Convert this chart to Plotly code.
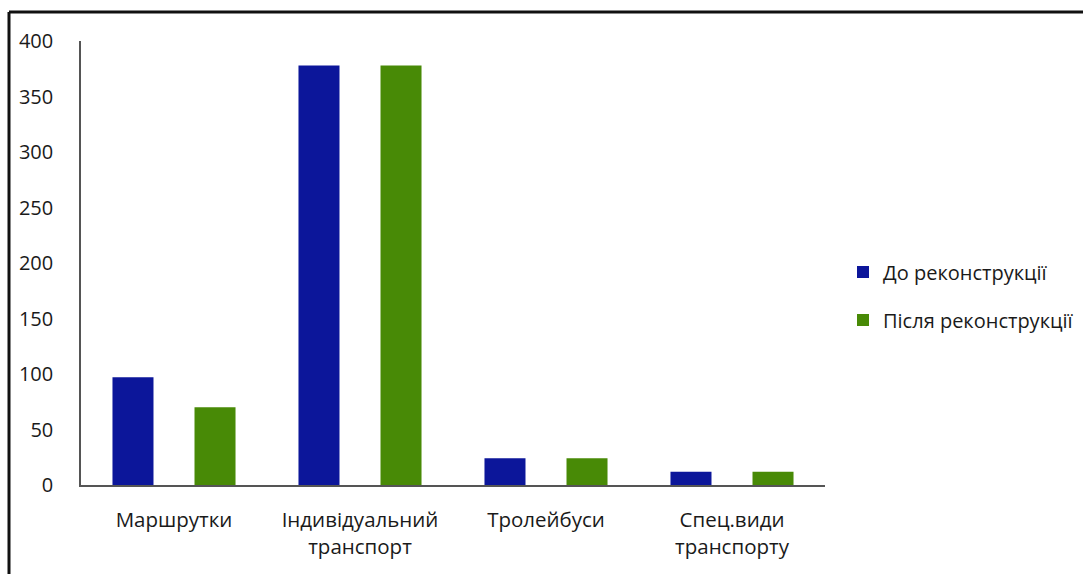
import plotly.graph_objects as go

categories = ["Маршрутки", "Індивідуальний<br>транспорт", "Тролейбуси", "Спец.види<br>транспорту"]
before = [97, 378, 24, 12]
after = [70, 378, 24, 12]
series_names = ["До реконструкції", "Після реконструкції"]
y_ticks = [0, 50, 100, 150, 200, 250, 300, 350, 400]

BLUE = "#0c169a"
GREEN = "#488a06"
FONT = "Open Sans"

fig = go.Figure()
fig.add_trace(go.Bar(x=categories, y=before, name=series_names[0],
                     marker=dict(color=BLUE, line=dict(width=0)),
                     legendgroup="a"))
fig.add_trace(go.Bar(x=categories, y=after, name=series_names[1],
                     marker=dict(color=GREEN, line=dict(width=0)),
                     legendgroup="b"))

W, H = 1083, 574
L, R, T, B = 81, 825, 41, 485

def px_x(px):
    return (px - L) / (R - L)

def px_y(py):
    return (B - py) / (B - T)

fig.update_layout(
    width=W, height=H,
    margin=dict(l=L, r=W - R, t=T, b=H - B, autoexpand=False),
    paper_bgcolor="white", plot_bgcolor="white",
    barmode="group", bargap=0.118, bargroupgap=0.5,
    font=dict(family=FONT, color="#1a1a1a", size=20),
    showlegend=True,
    legend=dict(x=px_x(843), y=px_y(296), xanchor="left", yanchor="middle",
                font=dict(family=FONT, size=20, color="#1a1a1a"),
                tracegroupgap=19, itemwidth=30, bgcolor="rgba(0,0,0,0)"),
    xaxis=dict(showline=True, linecolor="#555555", linewidth=1.5,
               showgrid=False, ticks="", ticklabelstandoff=16,
               tickfont=dict(family=FONT, size=20.5, color="#1a1a1a"),
               range=[-0.5, 3.5], automargin=False),
    yaxis=dict(range=[0, 400], tickvals=y_ticks, showline=True,
               linecolor="#555555", linewidth=1.5, showgrid=False,
               zeroline=False, ticks="", ticklabelstandoff=22,
               tickfont=dict(family=FONT, size=20, color="#1a1a1a"),
               automargin=False),
    shapes=[
        dict(type="line", xref="paper", yref="paper",
             x0=px_x(9), x1=px_x(W + 5), y0=px_y(12), y1=px_y(12),
             line=dict(color="#111111", width=3)),
        dict(type="line", xref="paper", yref="paper",
             x0=px_x(9), x1=px_x(9), y0=px_y(12), y1=px_y(H + 5),
             line=dict(color="#111111", width=3)),
    ],
)

fig.write_html("out.html")
